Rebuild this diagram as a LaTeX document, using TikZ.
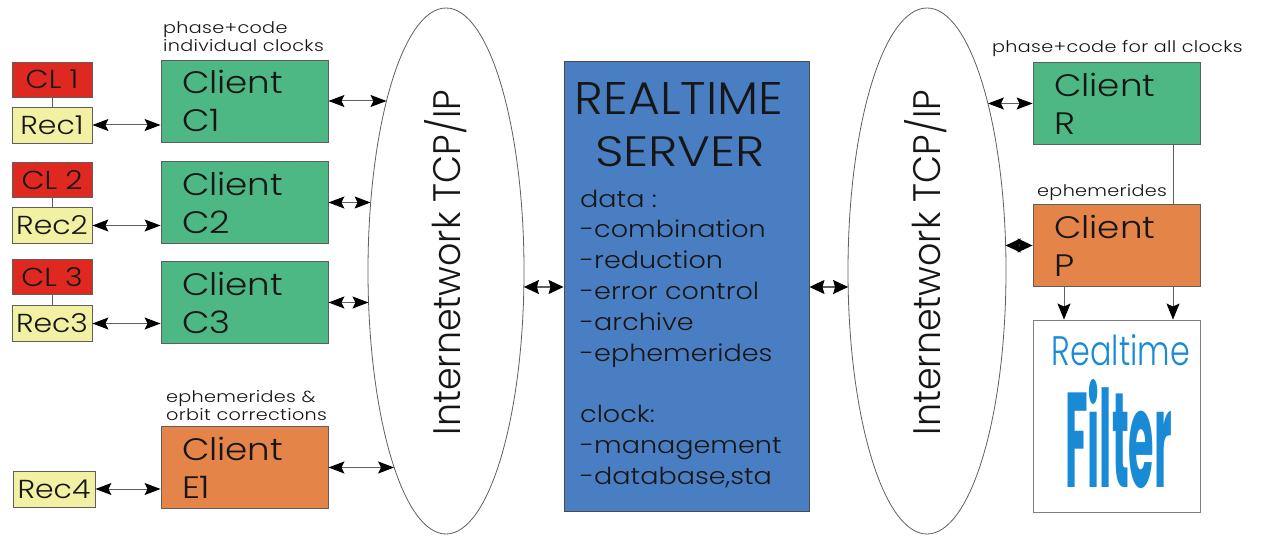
\documentclass[tikz,border=0pt]{standalone}
\usepackage{fontspec}
\usepackage{graphicx}
\setmainfont{Poppins Light}[FakeStretch=1.15]
\newfontfamily\plainfont{Poppins Light}
\newfontfamily\notefont{Poppins Light}[FakeStretch=1.2, LetterSpace=2]
\newfontfamily\heavyfont{Poppins}
\usetikzlibrary{arrows.meta,shapes.geometric}

\definecolor{clred}{RGB}{222,40,32}
\definecolor{recyellow}{RGB}{242,240,162}
\definecolor{clientgreen}{RGB}{78,184,132}
\definecolor{clientorange}{RGB}{228,132,72}
\definecolor{serverblue}{RGB}{74,126,194}
\definecolor{filterblue}{RGB}{24,138,214}
\definecolor{edgegray}{RGB}{95,95,95}
\definecolor{inkdark}{RGB}{22,22,22}

\tikzset{
  box/.style={rectangle, draw=edgegray, line width=0.9pt, inner sep=0pt, text=inkdark},
  client/.style={box, minimum width=167pt, minimum height=82pt, text width=125pt,
    align=left, font=\fontsize{31}{38}\selectfont},
  clock/.style={box, fill=clred, minimum width=80pt, minimum height=35pt,
    font=\fontsize{26}{30}\selectfont},
  receiver/.style={box, fill=recyellow, minimum width=80pt, minimum height=36pt,
    font=\fontsize{26}{30}\selectfont},
  note/.style={inner sep=0pt, align=left, text=inkdark, font=\notefont\fontsize{16}{18}\selectfont},
  network/.style={ellipse, draw=edgegray, line width=0.8pt, inner sep=0pt,
    minimum width=156pt, minimum height=526pt},
  thin tip/.tip={Stealth[length=16pt, width=12pt, inset=3pt, color=black]},
  fat tip/.tip={Stealth[length=15pt, width=14pt, inset=2pt, color=black]},
  down tip/.tip={Stealth[length=16pt, width=13pt, inset=3pt, color=black]},
  link/.style={draw=edgegray, line width=1pt, thin tip-thin tip},
  fatlink/.style={draw=edgegray, line width=1.3pt, fat tip-fat tip},
  feed/.style={draw=edgegray, line width=1pt, -down tip},
  wire/.style={draw=edgegray, line width=1pt}
}

\begin{document}
\begin{tikzpicture}[x=1pt, y=-1pt]
\useasboundingbox (0,0) rectangle (1271,537);
\fill[white] (0,0) rectangle (1271,537);

% ---- stations on the left ----
\node[clock]    (cl1)  at (52,79.5)  {CL 1};
\node[receiver] (rec1) at (52,125)   {Rec1};
\node[clock]    (cl2)  at (52,180)   {CL 2};
\node[receiver] (rec2) at (52,225.5) {Rec2};
\node[clock]    (cl3)  at (52,277)   {CL 3};
\node[receiver] (rec3) at (52,323.5) {Rec3};
\node[receiver, minimum width=82pt] (rec4) at (54,489) {Rec4};

\draw[wire] (cl1) -- (rec1);
\draw[wire] (cl2) -- (rec2);
\draw[wire] (cl3) -- (rec3);

% ---- clients on the left ----
\node[client, fill=clientgreen]  (c1) at (244.5,101)   {Client\\C1};
\node[client, fill=clientgreen]  (c2) at (244.5,202.5) {Client\\C2};
\node[client, fill=clientgreen]  (c3) at (244.5,302.5) {Client\\C3};
\node[client, fill=clientorange] (e1) at (244.5,467.5) {Client\\E1};

\node[note, anchor=south west] (noteC) at (163,52)  {phase+code\\individual clocks};
\node[note, anchor=south west] (noteE) at (166,421) {ephemerides \&\\orbit corrections};

\draw[link] (rec1.east) -- (rec1.east -| c1.west);
\draw[link] (rec2.east) -- (rec2.east -| c2.west);
\draw[link] (rec3.east) -- (rec3.east -| c3.west);
\draw[link] (rec4.east) -- (rec4.east -| e1.west);

% ---- left network cloud ----
\node[network] (net1) at (446,271) {};
\node[rotate=90, inner sep=0pt, text=inkdark] (net1txt) at (445.5,262.5)
  {\resizebox{345pt}{36pt}{\plainfont Internetwork TCP/IP}};

\coordinate (n1c1) at (386.5,101);
\coordinate (n1c2) at (370.6,202.5);
\coordinate (n1c3) at (368.5,302.5);
\coordinate (n1e1) at (394.1,467.5);
\coordinate (n1s)  at (523.9,287);

\draw[link] (c1.east) -- (n1c1);
\draw[link] (c2.east) -- (n1c2);
\draw[link] (c3.east) -- (n1c3);
\draw[link] (e1.east) -- (n1e1);

% ---- server ----
\node[box, fill=serverblue, draw=edgegray!80!black, minimum width=245pt, minimum height=450pt]
  (srv) at (686.5,286) {};
\node[inner sep=0pt, text=inkdark] (srvA) at (679,99)  {\resizebox{208pt}{32pt}{\plainfont REALTIME}};
\node[inner sep=0pt, text=inkdark] (srvB) at (680,152) {\resizebox{170pt}{30pt}{\plainfont SERVER}};
\node[inner sep=0pt, anchor=south west, align=left, text=inkdark,
  font=\fontsize{23.5}{30.8}\selectfont] (srvlist) at (580,488)
  {data :\\-combination\\-reduction\\-error control\\-archive\\-ephemerides\\[30.8pt]clock:\\-management\\-database,sta};

\draw[fatlink] (n1s) -- (n1s -| srv.west);

% ---- right network cloud ----
\node[network, minimum width=158pt] (net2) at (927,271) {};
\node[rotate=90, inner sep=0pt, text=inkdark] (net2txt) at (925.5,262.5)
  {\resizebox{345pt}{36pt}{\plainfont Internetwork TCP/IP}};

\coordinate (n2s) at (848.1,287);
\coordinate (n2r) at (987.9,103.5);
\coordinate (n2p) at (1005.6,245.5);

\draw[fatlink] (srv.east |- n2s) -- (n2s);

% ---- clients on the right ----
\node[client, fill=clientgreen]  (r) at (1116.5,103.5) {Client\\R};
\node[client, fill=clientorange] (p) at (1116.5,245.5) {Client\\P};
\node[note, anchor=base west] (noteR) at (992,53)  {phase+code for all clocks};
\node[note, anchor=base west] (noteP) at (1037,197) {ephemerides};

\draw[link] (n2r) -- (r.west |- n2r);
\draw[fatlink] (n2p) -- (p.west |- n2p);

\coordinate (tapL) at (1064,0);
\coordinate (tapR) at (1173,0);
\draw[wire] (r.south -| tapR) -- (p.north -| tapR);

% ---- filter ----
\node[box, fill=white, draw=edgegray!80, minimum width=167pt, minimum height=192pt]
  (filt) at (1116.5,416) {};
\node[inner sep=0pt, text=filterblue] (filtA) at (1121,350)
  {\resizebox{138pt}{31pt}{\plainfont Realtime}};
\node[inner sep=0pt, text=filterblue] (filtB) at (1118.5,434)
  {\resizebox{107pt}{108pt}{\heavyfont\bfseries Filter}};

\draw[feed] (p.south -| tapL) -- (filt.north -| tapL);
\draw[feed] (p.south -| tapR) -- (filt.north -| tapR);
\end{tikzpicture}
\end{document}
